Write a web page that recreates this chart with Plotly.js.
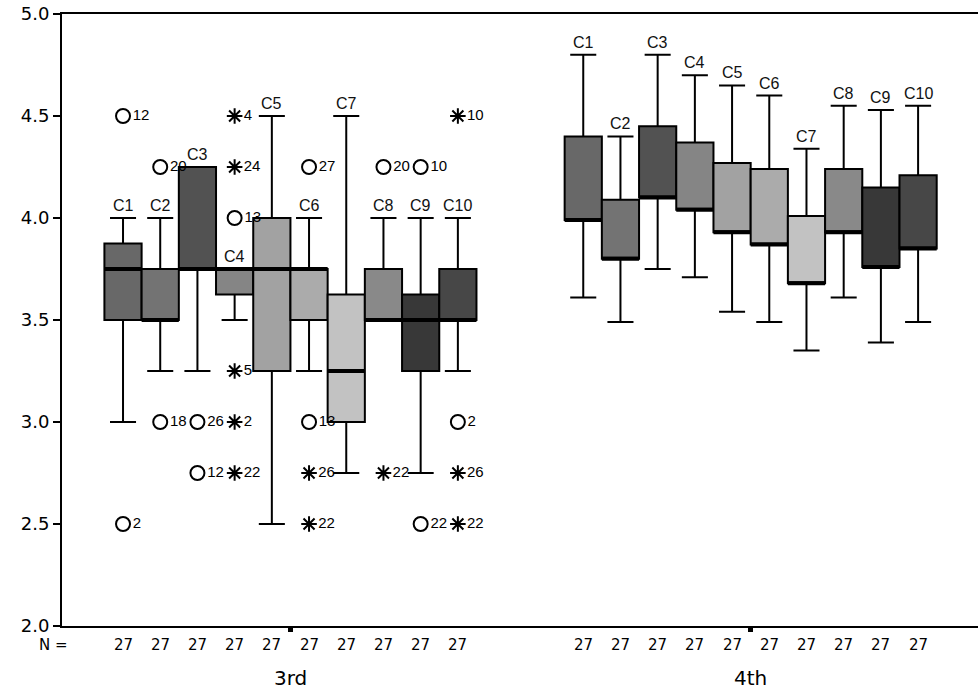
<!DOCTYPE html>
<html>
<head>
<meta charset="utf-8">
<script src="https://cdn.plot.ly/plotly-3.0.1.min.js"></script>
<style>html,body{margin:0;padding:0;background:#fff;}#chart{width:978px;height:692px;}</style>
</head>
<body>
<div id="chart"></div>
<script>
// ---- data ----
const categories = ['C1','C2','C3','C4','C5','C6','C7','C8','C9','C10'];
const groups = ['3rd','4th'];
const nCounts = [27,27,27,27,27,27,27,27,27,27];
const boxColors = ['#686868','#737373','#525252','#858585','#a2a2a2','#ababab','#c2c2c2','#898989','#383838','#474747'];

const q1_3rd  = [3.5, 3.5, 3.75, 3.625, 3.25, 3.5, 3.0, 3.5, 3.25, 3.5];
const med_3rd = [3.75, 3.5, 3.75, 3.75, 3.75, 3.75, 3.25, 3.5, 3.5, 3.5];
const q3_3rd  = [3.875, 3.75, 4.25, 3.75, 4.0, 3.75, 3.625, 3.75, 3.625, 3.75];
const lo_3rd  = [3.0, 3.25, 3.25, 3.5, 2.5, 3.25, 2.75, 3.5, 2.75, 3.25];
const hi_3rd  = [4.0, 4.0, 4.25, 3.75, 4.5, 4.0, 4.5, 4.0, 4.0, 4.0];

const q1_4th  = [3.99, 3.80, 4.10, 4.04, 3.93, 3.87, 3.68, 3.93, 3.76, 3.85];
const med_4th = [3.99, 3.80, 4.10, 4.04, 3.93, 3.87, 3.68, 3.93, 3.76, 3.85];
const q3_4th  = [4.40, 4.09, 4.45, 4.37, 4.27, 4.24, 4.01, 4.24, 4.15, 4.21];
const lo_4th  = [3.61, 3.49, 3.75, 3.71, 3.54, 3.49, 3.35, 3.61, 3.39, 3.49];
const hi_4th  = [4.80, 4.40, 4.80, 4.70, 4.65, 4.60, 4.34, 4.55, 4.53, 4.55];

// outliers (3rd group): box index, value, case label
const circleBox   = [0, 0, 1, 1, 2, 2, 3, 5, 5, 7, 8, 8, 9];
const circleVal   = [4.5, 2.5, 4.25, 3.0, 3.0, 2.75, 4.0, 4.25, 3.0, 4.25, 4.25, 2.5, 3.0];
const circleLabel = ['12','2','20','18','26','12','13','27','13','20','10','22','2'];
const starBox   = [3, 3, 3, 3, 3, 5, 5, 7, 9, 9, 9];
const starVal   = [4.5, 4.25, 3.25, 3.0, 2.75, 2.75, 2.5, 2.75, 4.5, 2.75, 2.5];
const starLabel = ['4','24','5','2','22','26','22','22','10','26','22'];

// ---- layout helpers ----
const groupStart = [0, 12.37];
const pos = (g, i) => groupStart[g] + i;
const groupCenter = g => groupStart[g] + 4.5;

const stats = [
  {q1:q1_3rd, med:med_3rd, q3:q3_3rd, lo:lo_3rd, hi:hi_3rd},
  {q1:q1_4th, med:med_4th, q3:q3_4th, lo:lo_4th, hi:hi_4th}
];

const traces = [];
categories.forEach((c, i) => {
  traces.push({
    type: 'box',
    name: c,
    x: [pos(0, i), pos(1, i)],
    q1: [stats[0].q1[i], stats[1].q1[i]],
    median: [stats[0].med[i], stats[1].med[i]],
    q3: [stats[0].q3[i], stats[1].q3[i]],
    lowerfence: [stats[0].lo[i], stats[1].lo[i]],
    upperfence: [stats[0].hi[i], stats[1].hi[i]],
    width: 1,
    whiskerwidth: 0.7,
    fillcolor: boxColors[i],
    line: {color: '#000', width: 2},
    boxpoints: false,
    hoverinfo: 'skip',
    showlegend: false
  });
});

// thick median lines
const mx = [], my = [];
for (let g = 0; g < 2; g++) {
  categories.forEach((c, i) => {
    const x = pos(g, i);
    mx.push(x - 0.5, x + 0.5, null);
    my.push(stats[g].med[i], stats[g].med[i], null);
  });
}
traces.push({type:'scatter', mode:'lines', x: mx, y: my,
  line:{color:'#000', width:4}, hoverinfo:'skip', showlegend:false});

// outliers
traces.push({type:'scatter', mode:'markers+text',
  x: circleBox.map(i => pos(0, i)), y: circleVal, text: circleLabel,
  textposition:'middle right',
  textfont:{family:'Liberation Sans, Arial, sans-serif', size:15, color:'#000'},
  marker:{symbol:'circle-open', size:14, color:'#000', line:{width:2, color:'#000'}},
  hoverinfo:'skip', showlegend:false});
traces.push({type:'scatter', mode:'markers+text',
  x: starBox.map(i => pos(0, i)), y: starVal, text: starLabel,
  textposition:'middle right',
  textfont:{family:'Liberation Sans, Arial, sans-serif', size:15, color:'#000'},
  marker:{symbol:'asterisk-open', size:13, color:'#000', line:{width:2, color:'#000'}},
  hoverinfo:'skip', showlegend:false});

// annotations: box labels, N row and group labels
const annotations = [];
for (let g = 0; g < 2; g++) {
  categories.forEach((c, i) => {
    annotations.push({x: pos(g, i), y: stats[g].hi[i], xref:'x', yref:'y', text: c,
      showarrow:false, xanchor:'center', yanchor:'bottom', yshift:2,
      font:{family:'Liberation Sans, Arial, sans-serif', size:16, color:'#111'}});
  });
}
annotations.push({x: -0.0098, y: -0.031, xref:'paper', yref:'paper', text:'N =', showarrow:false,
  xanchor:'center', yanchor:'middle', font:{family:'DejaVu Sans, sans-serif', size:15, color:'#000'}});
for (let g = 0; g < 2; g++) {
  categories.forEach((c, i) => {
    annotations.push({x: pos(g, i), y: -0.031, xref:'x', yref:'paper', text: String(nCounts[i]),
      showarrow:false, xanchor:'center', yanchor:'middle',
      font:{family:'DejaVu Sans, sans-serif', size:15, color:'#000'}});
  });
  annotations.push({x: groupCenter(g), y: -0.085, xref:'x', yref:'paper', text: groups[g],
    showarrow:false, xanchor:'center', yanchor:'middle',
    font:{family:'DejaVu Sans, sans-serif', size:20, color:'#000'}});
}

const layout = {
  width: 978, height: 692,
  margin: {l: 62, r: 0, t: 14, b: 66},
  paper_bgcolor: '#fff', plot_bgcolor: '#fff',
  boxmode: 'overlay',
  showlegend: false,
  xaxis: {
    range: [-1.64, 22.98], showgrid:false, zeroline:false,
    showline:true, linecolor:'#000', linewidth:2, mirror:true,
    tickvals: [groupCenter(0), groupCenter(1)], ticks:'outside', ticklen:4, tickwidth:5, tickcolor:'#000',
    showticklabels:false, fixedrange:true
  },
  yaxis: {
    range: [2.0, 5.0], showgrid:false, zeroline:false,
    showline:true, linecolor:'#000', linewidth:2,
    tickvals: [2.0, 2.5, 3.0, 3.5, 4.0, 4.5, 5.0], ticktext: ['2.0','2.5','3.0','3.5','4.0','4.5','5.0'],
    ticks:'outside', ticklen:7, tickwidth:2, tickcolor:'#000',
    tickfont:{family:'DejaVu Sans, sans-serif', size:18, color:'#000'}, fixedrange:true
  },
  annotations: annotations
};

Plotly.newPlot('chart', traces, layout, {displayModeBar:false, staticPlot:true});
</script>
</body>
</html>
